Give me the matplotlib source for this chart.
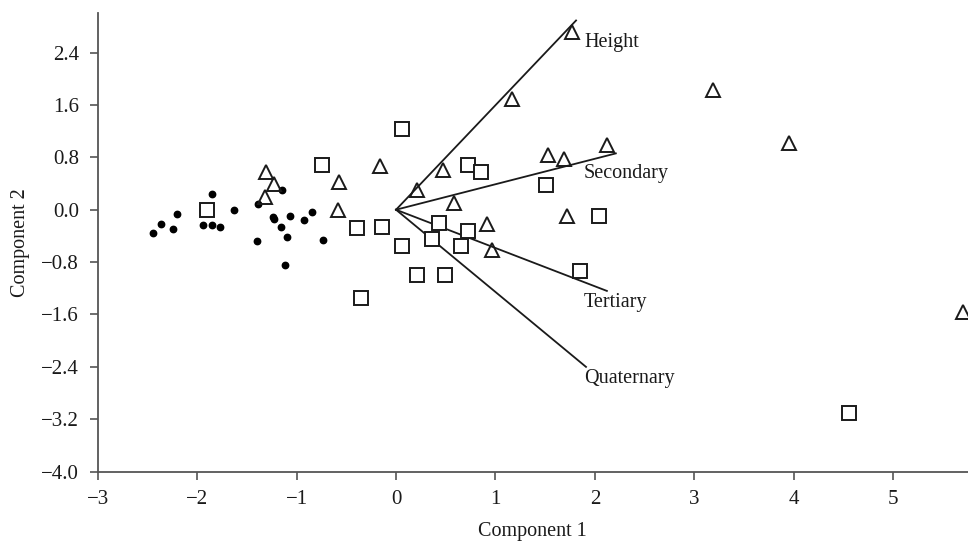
import numpy as np
import matplotlib.pyplot as plt

plt.rcParams['font.family'] = ['Liberation Serif', 'DejaVu Serif']

# group 1: small filled dots
dot_x = [-2.44, -2.36, -2.24, -2.20, -1.85, -1.94, -1.85, -1.77, -1.63, -1.39, -1.15,
         -1.24, -1.23, -1.07, -1.16, -1.10, -0.93, -0.84, -1.40, -0.73, -1.12]
dot_y = [-0.36, -0.22, -0.29, -0.06, 0.24, -0.23, -0.24, -0.27, 0.00, 0.08, 0.30,
         -0.11, -0.14, -0.09, -0.26, -0.41, -0.16, -0.04, -0.48, -0.47, -0.84]

# group 2: open squares
sq_x = [-1.90, -0.74, 0.06, 0.72, 0.85, 1.51, 2.04, -0.39, -0.14, 0.43, 0.72,
        0.06, 0.36, 0.65, 1.85, 0.21, 0.49, -0.35, 4.55]
sq_y = [-0.01, 0.68, 1.24, 0.68, 0.57, 0.37, -0.10, -0.28, -0.27, -0.21, -0.32,
        -0.55, -0.44, -0.55, -0.93, -1.00, -1.00, -1.35, -3.10]

# group 3: open triangles
tri_x = [1.77, 1.17, 2.12, 1.53, 1.69, 0.47, -0.16, -0.57, 0.21, 0.58, -0.58,
         1.72, 0.91, 0.96, -1.31, -1.23, -1.32, 3.19, 3.95, 5.70]
tri_y = [2.72, 1.69, 0.99, 0.84, 0.77, 0.60, 0.67, 0.43, 0.30, 0.11, -0.01,
         -0.09, -0.22, -0.61, 0.57, 0.40, 0.20, 1.83, 1.02, -1.56]

# loading vectors
vec_names = ["Height", "Secondary", "Tertiary", "Quaternary"]
vec_x = [1.81, 2.21, 2.12, 1.91]
vec_y = [2.89, 0.86, -1.24, -2.40]
lab_x = [1.89, 1.89, 1.89, 1.89]
lab_y = [2.56, 0.55, -1.42, -2.58]

xticks = [-3, -2, -1, 0, 1, 2, 3, 4, 5]
yticks = [2.4, 1.6, 0.8, 0.0, -0.8, -1.6, -2.4, -3.2, -4.0]

fig = plt.figure(figsize=(9.68, 5.44), dpi=100)
ax = fig.add_axes([0.1009, 0.133, 0.899, 0.8426])

for vx, vy in zip(vec_x, vec_y):
    ax.plot([0, vx], [0, vy], color='#1a1a1a', lw=1.3, zorder=2)
for name, lx, ly in zip(vec_names, lab_x, lab_y):
    ax.text(lx, ly, name, fontsize=14.5, ha='left', va='center', color='#1a1a1a')

ax.plot(dot_x, dot_y, 'o', ms=4.6, color='black', zorder=3)
ax.plot(sq_x, sq_y, 's', ms=9.5, mfc='white', mec='#1a1a1a', mew=1.4, zorder=3)
ax.plot(tri_x, tri_y, '^', ms=10.5, mfc='none', mec='#1a1a1a', mew=1.4, zorder=3,
        clip_on=False)

ax.set_xlim(-3, 5.75)
ax.set_ylim(-4, 3)
ax.set_xticks(xticks)
ax.set_yticks(yticks)
ax.set_xticklabels([f"{t:d}".replace('-', '\u2212') for t in xticks])
ax.set_yticklabels([f"{t:.1f}".replace('-', '\u2212') for t in yticks])

for s in ['top', 'right']:
    ax.spines[s].set_visible(False)
for s in ['left', 'bottom']:
    ax.spines[s].set_color('#555555')
    ax.spines[s].set_linewidth(1.3)
ax.tick_params(direction='out', length=5.5, width=1.2, color='#555555',
               labelsize=15, labelcolor='#1a1a1a', pad=8)

ax.set_xlabel("Component 1", fontsize=14.5, color='#1a1a1a', labelpad=9)
ax.set_ylabel("Component 2", fontsize=14.5, color='#1a1a1a', labelpad=8)

fig.savefig("out.png", dpi=100)
